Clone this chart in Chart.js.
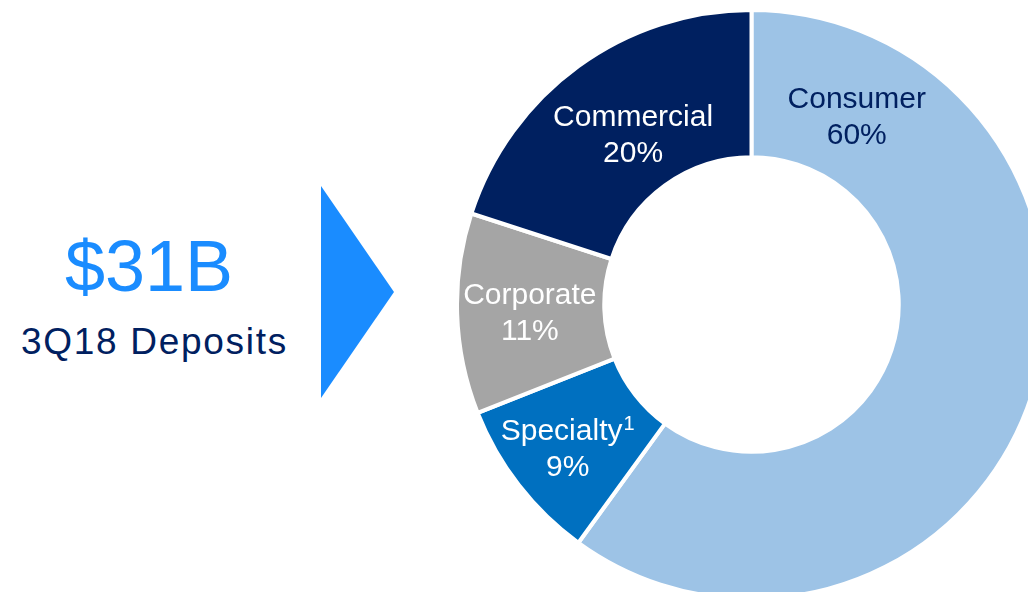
<!DOCTYPE html>
<html>
<head>
<meta charset="utf-8">
<script src="https://cdn.jsdelivr.net/npm/chart.js@4"></script>
<style>
  html, body { margin: 0; padding: 0; width: 1028px; height: 592px; overflow: hidden; background: #ffffff; }
  body { position: relative; font-family: "Liberation Sans", Arial, sans-serif; }
  #total { position: absolute; left: 0; width: 298px; top: 226px; text-align: center; font-size: 72px; line-height: 80px; color: #1A8CFF; }
  #caption { position: absolute; left: 0; width: 309px; top: 319.5px; text-align: center; font-size: 37px; line-height: 44px; letter-spacing: 1.7px; color: #002060; white-space: nowrap; }
  #arrow { position: absolute; left: 321px; top: 186px; }
  #donut { position: absolute; left: 455px; top: 8px; width: 593px; height: 593px; }
</style>
</head>
<body>
<div id="total">$31B</div>
<div id="caption">3Q18 Deposits</div>
<svg id="arrow" width="74" height="213" viewBox="0 0 74 213"><polygon points="0,0 73,106 0,212" fill="#1A8CFF"/></svg>
<div id="donut"><canvas id="c" width="593" height="593"></canvas></div>
<script>
// Deposit mix by business line, clockwise from 12 o'clock
const segments = ["Consumer", "Specialty", "Corporate", "Commercial"];
const shares = [60, 9, 11, 20];
const footnotes = ["", "1", "", ""];
const sliceColors = ["#9DC3E6", "#0070C0", "#A5A5A5", "#002060"];
const labelColors = ["#002060", "#ffffff", "#ffffff", "#ffffff"];
// Label direction in degrees clockwise from top (null = slice mid-angle)
const labelAngles = [29, null, null, 325.4];
// Label distance across the ring: 0 = inner edge, 1 = outer edge
const labelDepths = [0.474, 0.58, 0.506, 0.416];

const sliceLabels = {
  id: "sliceLabels",
  afterDatasetsDraw(chart) {
    const ctx = chart.ctx;
    const meta = chart.getDatasetMeta(0);
    const font = '30px "Liberation Sans", Arial, sans-serif';
    const supFont = '20px "Liberation Sans", Arial, sans-serif';
    meta.data.forEach((arc, i) => {
      const p = arc.getProps(["x", "y", "startAngle", "endAngle", "innerRadius", "outerRadius"], true);
      const ang = labelAngles[i] === null
        ? (p.startAngle + p.endAngle) / 2
        : -Math.PI / 2 + labelAngles[i] * Math.PI / 180;
      const r = p.innerRadius + (p.outerRadius - p.innerRadius) * labelDepths[i];
      const cx = p.x + Math.cos(ang) * r;
      const cy = p.y + Math.sin(ang) * r;
      ctx.save();
      ctx.fillStyle = labelColors[i];
      ctx.textBaseline = "alphabetic";
      ctx.font = font;
      const nameW = ctx.measureText(segments[i]).width;
      ctx.font = supFont;
      const supW = footnotes[i] ? ctx.measureText(footnotes[i]).width + 1 : 0;
      const left = cx - (nameW + supW) / 2;
      ctx.textAlign = "left";
      ctx.font = font;
      ctx.fillText(segments[i], left, cy - 7);
      if (footnotes[i]) {
        ctx.font = supFont;
        ctx.fillText(footnotes[i], left + nameW + 1, cy - 17);
      }
      ctx.font = font;
      ctx.textAlign = "center";
      ctx.fillText(shares[i] + "%", cx, cy + 29);
      ctx.restore();
    });
  }
};

new Chart(document.getElementById("c"), {
  type: "doughnut",
  data: {
    labels: segments,
    datasets: [{
      data: shares,
      backgroundColor: sliceColors,
      borderColor: "#ffffff",
      borderWidth: 4
    }]
  },
  options: {
    responsive: false,
    animation: false,
    events: [],
    cutout: "50%",
    layout: { padding: 0 },
    plugins: { legend: { display: false }, tooltip: { enabled: false } }
  },
  plugins: [sliceLabels]
});
</script>
</body>
</html>
